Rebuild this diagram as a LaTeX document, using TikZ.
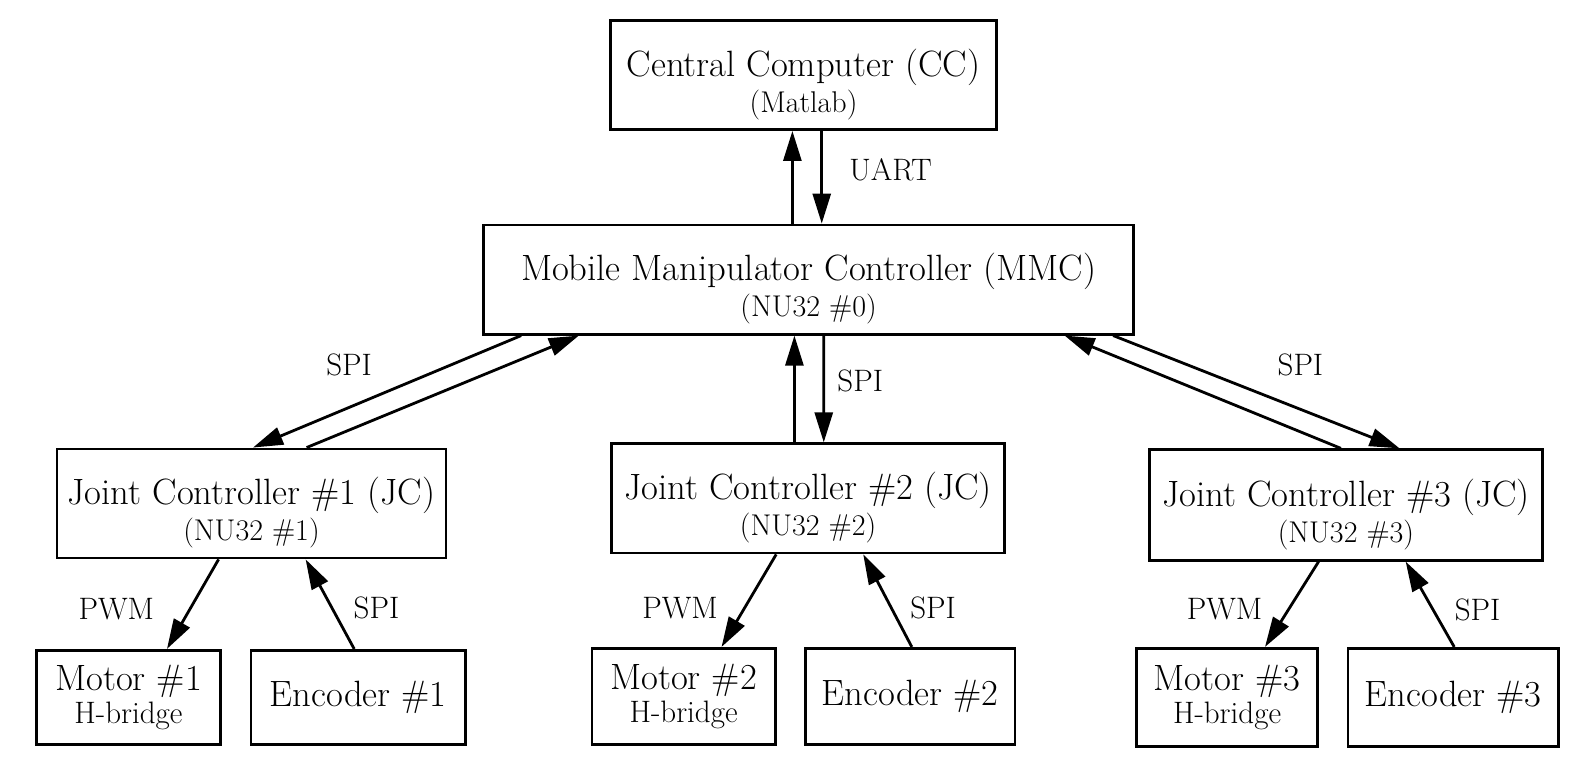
\documentclass[tikz,border=0pt]{standalone}
\usetikzlibrary{arrows.meta}
\newcommand\dgmain{\fontsize{18.3}{21}\selectfont}
\newcommand\dgsub{\fontsize{15}{17}\selectfont}
\newcommand\dghb{\fontsize{15.5}{17}\selectfont}
\newcommand\dglab{\fontsize{15.5}{17}\selectfont}
\newcommand\dgup{\rule{0pt}{23pt}}
\begin{document}
\begin{tikzpicture}[x=0.506pt,y=-0.5065pt,
  box/.style={draw,line width=1.4pt,rectangle,inner sep=0pt,align=center,font=\dgmain},
  conn/.style={line width=1.4pt,-{Triangle[length=15pt,width=9pt]}},
  lab/.style={font=\dglab,inner sep=0pt}]
\useasboundingbox (0pt,0pt) rectangle (793pt,-381.5pt);
% boxes
\node[box,minimum width=193.3pt,minimum height=54.6pt] (cc) at (794,74)
  {\dgup Central Computer (CC)\\[-3pt]{\dgsub (Matlab)}};
\node[box,minimum width=324.9pt,minimum height=54.6pt] (mmc) at (799,276)
  {\dgup Mobile Manipulator Controller (MMC)\\[-3pt]{\dgsub (NU32 \#0)}};
\node[box,minimum width=194.5pt,minimum height=54.5pt] (jc1) at (248.5,497)
  {\dgup Joint Controller \#1 (JC)\\[-3pt]{\dgsub (NU32 \#1)}};
\node[box,minimum width=196.8pt,minimum height=54.6pt] (jc2) at (798.5,492)
  {\dgup Joint Controller \#2 (JC)\\[-3pt]{\dgsub (NU32 \#2)}};
\node[box,minimum width=196.3pt,minimum height=55.2pt] (jc3) at (1330,498.5)
  {\dgup Joint Controller \#3 (JC)\\[-3pt]{\dgsub (NU32 \#3)}};
\node[box,minimum width=92.1pt,minimum height=47.1pt] (m1) at (127,688.5)
  {Motor \#1\\[-4.5pt]{\dghb H-bridge}};
\node[box,minimum width=107.3pt,minimum height=47.1pt] (e1) at (354,688.5)
  {Encoder \#1};
\node[box,minimum width=91.6pt,minimum height=48.1pt] (m2) at (675.5,687.5)
  {Motor \#2\\[-4.5pt]{\dghb H-bridge}};
\node[box,minimum width=104.7pt,minimum height=48.1pt] (e2) at (899.5,687.5)
  {Encoder \#2};
\node[box,minimum width=90.6pt,minimum height=49.1pt] (m3) at (1212.5,688.5)
  {Motor \#3\\[-4.5pt]{\dghb H-bridge}};
\node[box,minimum width=105.2pt,minimum height=49.1pt] (e3) at (1436,688.5)
  {Encoder \#3};
% CC <-> MMC
\draw[conn] ([shift={(-16,0)}]mmc.north) -- ([shift={(-11,0)}]cc.south);
\draw[conn] ([shift={(18,0)}]cc.south) -- ([shift={(13,0)}]mmc.north);
\node[lab] (luart) at (880,168) {UART};
% MMC <-> JC2
\draw[conn] ([shift={(-13.5,0)}]jc2.north) -- ([shift={(-14,0)}]mmc.south);
\draw[conn] ([shift={(15,0)}]mmc.south) -- ([shift={(15.5,0)}]jc2.north);
\node[lab] (lspi2) at (850,376) {SPI};
% MMC <-> JC1
\draw[conn] ([shift={(-284,0)}]mmc.south) -- ([shift={(1.5,0)}]jc1.north);
\draw[conn] ([shift={(54.5,0)}]jc1.north) -- ([shift={(-227,0)}]mmc.south);
\node[lab] (lspi1) at (345,360) {SPI};
% MMC <-> JC3
\draw[conn] ([shift={(-5,0)}]jc3.north) -- ([shift={(253,0)}]mmc.south);
\draw[conn] ([shift={(301,0)}]mmc.south) -- ([shift={(53,0)}]jc3.north);
\node[lab] (lspi3) at (1285,360) {SPI};
% JC1 <-> motor/encoder
\draw[conn] ([shift={(-32.5,0)}]jc1.south) -- ([shift={(38,0)}]m1.north);
\draw[conn] ([shift={(-4,0)}]e1.north) -- ([shift={(53.5,0)}]jc1.south);
\node[lab] (lpwm1) at (115,601) {PWM};
\node[lab] (lspie1) at (372,600) {SPI};
% JC2
\draw[conn] ([shift={(-31.5,0)}]jc2.south) -- ([shift={(37.5,0)}]m2.north);
\draw[conn] ([shift={(1.5,0)}]e2.north) -- ([shift={(54.5,0)}]jc2.south);
\node[lab] (lpwm2) at (672,600) {PWM};
\node[lab] (lspie2) at (922,600) {SPI};
% JC3
\draw[conn] ([shift={(-27,0)}]jc3.south) -- ([shift={(37.5,0)}]m3.north);
\draw[conn] ([shift={(1,0)}]e3.north) -- ([shift={(59,0)}]jc3.south);
\node[lab] (lpwm3) at (1210,601) {PWM};
\node[lab] (lspie3) at (1460,602) {SPI};
\end{tikzpicture}
\end{document}
